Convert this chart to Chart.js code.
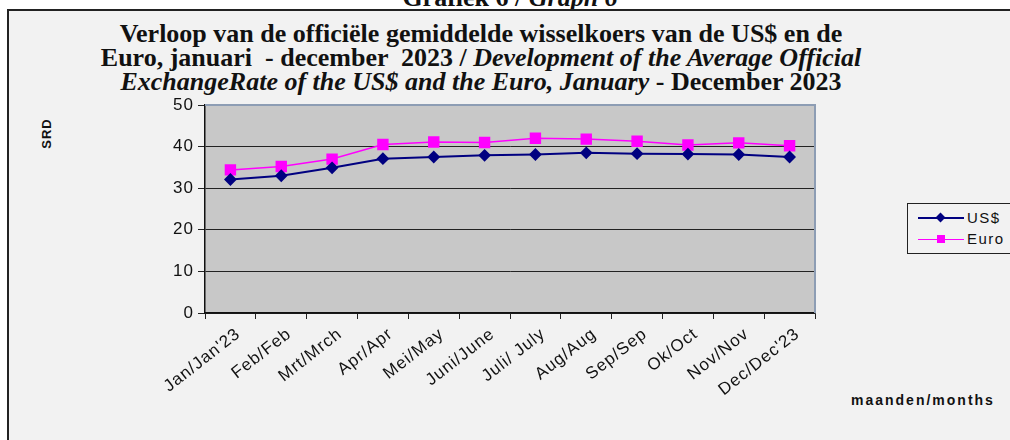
<!DOCTYPE html>
<html lang="nl">
<head>
  <meta charset="UTF-8">
  <title>Grafiek 6 - Wisselkoers US$ en Euro 2023</title>
  <script src="https://cdn.jsdelivr.net/npm/chart.js"></script>
  <style>
    html, body {
      margin: 0;
      padding: 0;
      width: 1010px;
      height: 440px;
      overflow: hidden;
      background: #fff;
    }
    .frame {
      position: absolute;
      left: 7px;
      top: 9px;
      width: 1010px;
      height: 440px;
      background: #f2f2f2;
      border: 2px solid #222;
    }
    .graph-no {
      position: absolute;
      left: 0;
      width: 1020px;
      top: -15px;
      text-align: center;
      font: bold 26px/26px "Liberation Serif", "Times New Roman", serif;
      color: #111;
    }
    .title {
      position: absolute;
      left: 0;
      width: 962px;
      top: 22px;
      text-align: center;
      font: bold 26px/24px "Liberation Serif", "Times New Roman", serif;
      color: #111;
    }
    .title i { font-style: italic; }
    .ytitle {
      position: absolute;
      left: 31px;
      top: 126px;
      transform: rotate(-90deg);
      font: bold 13px "Liberation Sans", Arial, sans-serif;
      letter-spacing: 1px;
      color: #111;
    }
    .xtitle {
      position: absolute;
      left: 851px;
      top: 392px;
      font: bold 14px "Liberation Sans", Arial, sans-serif;
      letter-spacing: 2px;
      color: #111;
    }
    .legend {
      position: absolute;
      left: 907px;
      top: 203px;
      width: 110px;
      height: 49px;
      border: 1px solid #222;
      font: 15px "Liberation Sans", Arial, sans-serif;
      letter-spacing: 1.5px;
      color: #111;
    }
    .legend .row {
      position: absolute;
      left: 10px;
      height: 16px;
    }
    .legend .line {
      position: absolute;
      left: 0;
      top: 8px;
      width: 46px;
    }
    .legend .mk {
      position: absolute;
    }
    .legend .lbl {
      position: absolute;
      left: 49px;
      top: -1px;
    }
  </style>
</head>
<body>
  <div class="graph-no">Grafiek 6 / <i>Graph 6</i></div>
  <div class="frame"></div>
  <div class="title">
    Verloop van de officiële gemiddelde wisselkoers van de US$ en de<br>
    Euro, januari &nbsp;- december &nbsp;2023 / <i>Development of the Average Official<br>
    ExchangeRate of the US$ and the Euro, January</i> - December 2023
  </div>
  <div class="ytitle">SRD</div>
  <div class="xtitle">maanden/months</div>
  <div class="legend">
    <div class="row" style="top:6px">
      <div class="line" style="border-top:2px solid #000080;top:7px"></div>
      <div class="mk" style="left:19px;top:4px;width:7px;height:7px;background:#000080;transform:rotate(45deg)"></div>
      <div class="lbl">US$</div>
    </div>
    <div class="row" style="top:27px">
      <div class="line" style="border-top:1px solid #ff00ff;top:8px"></div>
      <div class="mk" style="left:19px;top:4px;width:8px;height:8px;background:#ff00ff"></div>
      <div class="lbl">Euro</div>
    </div>
  </div>
  <canvas id="koersChart" style="position:absolute;left:0;top:0"></canvas>

  <script>
    // maanden
    const maanden = ['Jan/Jan\'23', 'Feb/Feb', 'Mrt/Mrch', 'Apr/Apr', 'Mei/May', 'Juni/June',
                     'Juli/ July', 'Aug/Aug', 'Sep/Sep', 'Ok/Oct', 'Nov/Nov', 'Dec/Dec\'23'];
    const koersUSD  = [32.1, 33.0, 34.9, 37.1, 37.5, 37.9, 38.1, 38.5, 38.3, 38.2, 38.1, 37.5];
    const koersEuro = [34.4, 35.2, 37.0, 40.5, 41.1, 41.0, 42.0, 41.8, 41.3, 40.4, 40.9, 40.2];
    const yTicks = [0, 10, 20, 30, 40, 50];

    // grijze plotachtergrond + blauwgrijze rand boven/rechts
    const plotBg = {
      id: 'plotBg',
      beforeInit(chart) {
        chart.ctx.letterSpacing = '1px';
      },
      beforeDraw(chart) {
        const { ctx, chartArea: a } = chart;
        ctx.letterSpacing = '1px';
        ctx.save();
        ctx.fillStyle = '#c8c8c8';
        ctx.fillRect(a.left, a.top, a.right - a.left, a.bottom - a.top);
        ctx.restore();
      },
      beforeDatasetsDraw(chart) {
        const { ctx, chartArea: a } = chart;
        ctx.save();
        ctx.strokeStyle = '#8d9db4';
        ctx.lineWidth = 2;
        ctx.beginPath();
        ctx.moveTo(a.left, a.top);
        ctx.lineTo(a.right, a.top);
        ctx.lineTo(a.right, a.bottom);
        ctx.stroke();
        ctx.restore();
      }
    };

    const canvas = document.getElementById('koersChart');
    canvas.width = 1010;
    canvas.height = 440;

    new Chart(canvas, {
      type: 'line',
      data: {
        labels: maanden,
        datasets: [{
          label: 'US$',
          data: koersUSD,
          borderColor: '#000080',
          backgroundColor: '#000080',
          borderWidth: 2,
          pointStyle: 'rectRot',
          pointRadius: 5,
          pointHoverRadius: 5,
          tension: 0
        }, {
          label: 'Euro',
          data: koersEuro,
          borderColor: '#ff00ff',
          backgroundColor: '#ff00ff',
          borderWidth: 1.5,
          pointStyle: 'rect',
          pointRadius: 7,
          pointHoverRadius: 7,
          tension: 0
        }]
      },
      options: {
        responsive: false,
        animation: false,
        layout: { padding: { left: 160, top: 105, right: 195, bottom: 27 } },
        plugins: {
          legend: { display: false },
          title: { display: false },
          tooltip: { enabled: false }
        },
        scales: {
          x: {
            offset: true,
            afterFit(scale) { scale.height = 100; },
            grid: {
              display: true,
              offset: true,
              drawOnChartArea: false,
              drawTicks: true,
              tickLength: 6,
              color: '#222'
            },
            border: { color: '#111', width: 1.5 },
            ticks: {
              autoSkip: false,
              maxRotation: 38,
              minRotation: 38,
              labelOffset: 8,
              padding: 5,
              color: '#111',
              font: { family: 'Liberation Sans, Arial, sans-serif', size: 17 }
            }
          },
          y: {
            min: 0,
            max: 50,
            afterFit(scale) { scale.width = 45; },
            afterBuildTicks(scale) { scale.ticks = yTicks.map(v => ({ value: v })); },
            grid: {
              color: '#222',
              lineWidth: 1,
              tickLength: 7
            },
            border: { color: '#111', width: 1.5 },
            ticks: {
              padding: 4,
              color: '#111',
              font: { family: 'Liberation Sans, Arial, sans-serif', size: 17 }
            }
          }
        }
      },
      plugins: [plotBg]
    });
  </script>
</body>
</html>
